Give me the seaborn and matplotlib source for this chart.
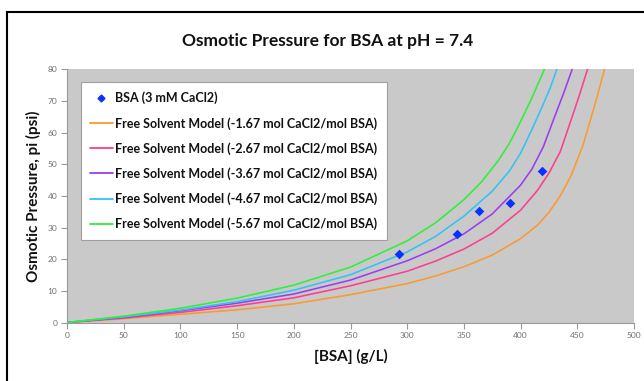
import pandas as pd
import matplotlib
matplotlib.use("Agg")
import matplotlib.pyplot as plt
import seaborn as sns
from matplotlib.patches import Rectangle
from matplotlib.lines import Line2D

# Measured points: BSA in 3 mM CaCl2
bsa_conc = [293, 344, 363, 391, 419]
bsa_pi = [21.5, 27.9, 35.2, 37.9, 47.9]

# Free solvent model curves
conc_167 = [0, 50, 100, 150, 200, 250, 300, 325, 350, 375, 400, 415, 425, 435, 445, 455, 462, 468, 474]
pi_167 = [0, 1.2, 2.6, 4.0, 5.9, 8.8, 12.3, 14.7, 17.6, 21.3, 26.5, 30.8, 34.8, 40.0, 46.8, 56.0, 64.5, 72.0, 80.0]

conc_267 = [0, 50, 100, 150, 200, 250, 300, 325, 350, 375, 400, 415, 425, 435, 445, 452, 459]
pi_267 = [0, 1.4, 3.2, 5.3, 7.8, 11.6, 16.2, 19.4, 23.2, 28.2, 35.5, 41.8, 47.2, 54.0, 64.5, 72.0, 80.0]

conc_367 = [0, 50, 100, 150, 200, 250, 300, 325, 350, 375, 400, 410, 420, 430, 438, 445.5]
pi_367 = [0, 1.6, 3.7, 6.1, 9.0, 13.4, 19.5, 23.3, 28.0, 34.3, 43.4, 48.5, 55.5, 65.0, 72.5, 80.0]

conc_467 = [0, 50, 100, 150, 200, 250, 300, 325, 350, 375, 390, 400, 410, 420, 426, 432]
pi_467 = [0, 1.8, 3.9, 6.6, 10.2, 15.1, 22.3, 27.2, 33.6, 41.5, 47.8, 53.5, 61.0, 69.0, 74.0, 80.0]

conc_567 = [0, 50, 100, 150, 200, 250, 300, 325, 350, 365, 380, 390, 400, 410, 421]
pi_567 = [0, 2.0, 4.5, 7.7, 11.8, 17.5, 25.8, 31.5, 38.8, 44.2, 51.0, 56.5, 63.5, 71.0, 80.0]

model_labels = [
    "Free Solvent Model (-1.67 mol CaCl2/mol BSA)",
    "Free Solvent Model (-2.67 mol CaCl2/mol BSA)",
    "Free Solvent Model (-3.67 mol CaCl2/mol BSA)",
    "Free Solvent Model (-4.67 mol CaCl2/mol BSA)",
    "Free Solvent Model (-5.67 mol CaCl2/mol BSA)",
]
model_colors = ["#fb9a2e", "#ff3d8f", "#9b3cf2", "#32c3f5", "#2ef03a"]

curves = [(conc_167, pi_167), (conc_267, pi_267), (conc_367, pi_367),
          (conc_467, pi_467), (conc_567, pi_567)]
df = pd.concat([pd.DataFrame({"conc": c, "pi": p, "model": lab})
                for (c, p), lab in zip(curves, model_labels)], ignore_index=True)
pts = pd.DataFrame({"conc": bsa_conc, "pi": bsa_pi})

sns.set_theme(style="white")
plt.rcParams["font.family"] = ["Lato", "DejaVu Sans"]

fig = plt.figure(figsize=(6.44, 3.81), dpi=100)
ax = fig.add_axes([67 / 644, 1 - 322.5 / 381, 567 / 644, 253.2 / 381])
ax.set_facecolor("#c9c9c9")

sns.lineplot(data=df, x="conc", y="pi", hue="model", palette=dict(zip(model_labels, model_colors)),
             linewidth=1.15, estimator=None, sort=False, legend=False, ax=ax)
sns.scatterplot(data=pts, x="conc", y="pi", marker="D", s=24, color="#0a32ff",
                edgecolor="#0a32ff", linewidth=0, zorder=5, legend=False, ax=ax)

ax.set_xlim(0, 500)
ax.set_ylim(0, 80)
ax.set_xticks(range(0, 501, 50))
ax.set_yticks(range(0, 81, 10))
ax.tick_params(axis="both", which="major", labelsize=6, labelcolor="#707070",
               color="#999999", length=4, width=0.8, direction="out", pad=3)
ax.tick_params(bottom=True, left=True)
for side in ["top", "right"]:
    ax.spines[side].set_visible(False)
for side in ["left", "bottom"]:
    ax.spines[side].set_color("#9a9a9a")
    ax.spines[side].set_linewidth(0.8)

ax.set_xlabel("[BSA] (g/L)", fontsize=11, fontweight="bold", color="#111111", labelpad=7)
ax.set_ylabel("Osmotic Pressure, pi (psi)", fontsize=11, fontweight="bold", color="#111111", labelpad=5)
fig.text(328 / 644, 1 - 41 / 381, "Osmotic Pressure for BSA at pH = 7.4", ha="center", va="center",
         fontsize=12.5, fontweight="bold", color="#111111")

handles = [Line2D([], [], marker="D", linestyle="none", color="#0a32ff", markersize=3.5)]
handles += [Line2D([], [], color=c, linewidth=1.3) for c in model_colors]
leg = ax.legend(handles, ["BSA (3 mM CaCl2)"] + model_labels, loc="upper left",
                bbox_to_anchor=((80.7 - 67) / 567, (322.5 - 82.3) / 253.2), borderaxespad=0,
                frameon=True, fancybox=False, shadow=False, framealpha=1,
                edgecolor="#a0a0a0", handlelength=1.8, handletextpad=0.2, labelspacing=1.0,
                borderpad=0.75, prop={"weight": "bold", "size": 9})
leg.get_frame().set_linewidth(0.8)
for t in leg.get_texts():
    t.set_color("#111111")

fig.patches.append(Rectangle((7 / 644, -0.1), 1.2, (381 - 12) / 381 + 0.1, transform=fig.transFigure,
                             fill=False, edgecolor="black", linewidth=1.5))

plt.savefig("out.png", dpi=100)
